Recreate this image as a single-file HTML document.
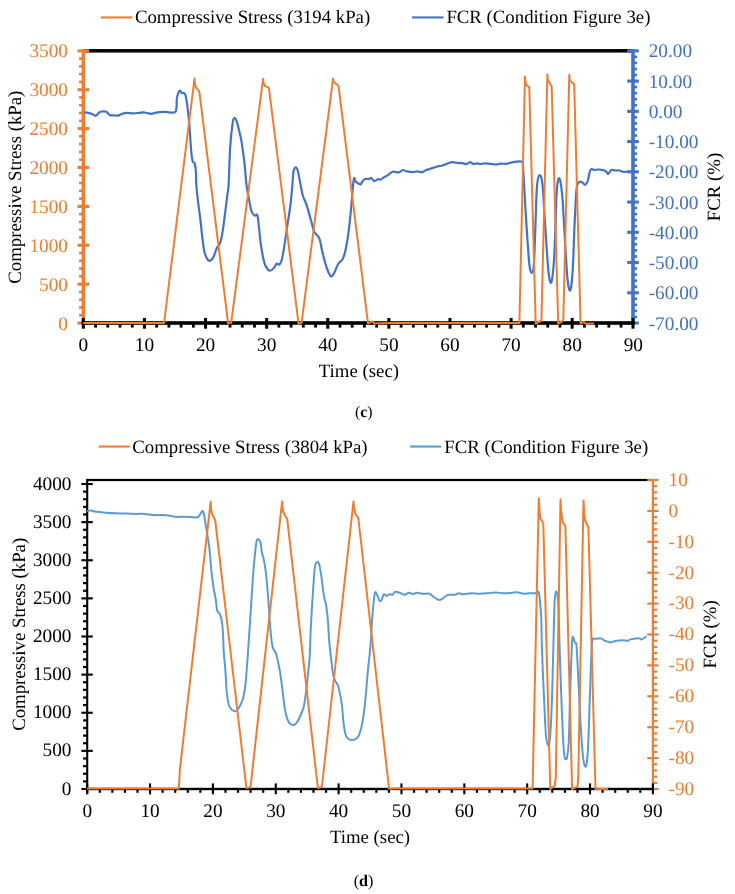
<!DOCTYPE html>
<html><head><meta charset="utf-8"><style>
html,body{margin:0;padding:0;background:#fff;width:735px;height:894px;overflow:hidden}
text{font-family:"Liberation Serif", serif;text-rendering:geometricPrecision}
svg{will-change:transform}
</style></head><body>
<svg width="735" height="894" viewBox="0 0 735 894" style="display:block">
<rect width="735" height="894" fill="#fff"/>
<rect x="83.35" y="49.05" width="549.9499999999999" height="3.5" fill="#000"/>
<rect x="81.6" y="49.05" width="3.5" height="272.2" fill="#ED7D31"/>
<rect x="77.55" y="321.50" width="11.6" height="3.1" fill="#ED7D31"/>
<rect x="79.05" y="313.92" width="4.3" height="2.6" fill="#ED7D31"/>
<rect x="79.05" y="306.15" width="4.3" height="2.6" fill="#ED7D31"/>
<rect x="79.05" y="298.37" width="4.3" height="2.6" fill="#ED7D31"/>
<rect x="79.05" y="290.59" width="4.3" height="2.6" fill="#ED7D31"/>
<rect x="77.55" y="282.61" width="11.6" height="3.1" fill="#ED7D31"/>
<rect x="79.05" y="275.04" width="4.3" height="2.6" fill="#ED7D31"/>
<rect x="79.05" y="267.26" width="4.3" height="2.6" fill="#ED7D31"/>
<rect x="79.05" y="259.48" width="4.3" height="2.6" fill="#ED7D31"/>
<rect x="79.05" y="251.71" width="4.3" height="2.6" fill="#ED7D31"/>
<rect x="77.55" y="243.73" width="11.6" height="3.1" fill="#ED7D31"/>
<rect x="79.05" y="236.15" width="4.3" height="2.6" fill="#ED7D31"/>
<rect x="79.05" y="228.37" width="4.3" height="2.6" fill="#ED7D31"/>
<rect x="79.05" y="220.60" width="4.3" height="2.6" fill="#ED7D31"/>
<rect x="79.05" y="212.82" width="4.3" height="2.6" fill="#ED7D31"/>
<rect x="77.55" y="204.84" width="11.6" height="3.1" fill="#ED7D31"/>
<rect x="79.05" y="197.27" width="4.3" height="2.6" fill="#ED7D31"/>
<rect x="79.05" y="189.49" width="4.3" height="2.6" fill="#ED7D31"/>
<rect x="79.05" y="181.71" width="4.3" height="2.6" fill="#ED7D31"/>
<rect x="79.05" y="173.93" width="4.3" height="2.6" fill="#ED7D31"/>
<rect x="77.55" y="165.96" width="11.6" height="3.1" fill="#ED7D31"/>
<rect x="79.05" y="158.38" width="4.3" height="2.6" fill="#ED7D31"/>
<rect x="79.05" y="150.60" width="4.3" height="2.6" fill="#ED7D31"/>
<rect x="79.05" y="142.83" width="4.3" height="2.6" fill="#ED7D31"/>
<rect x="79.05" y="135.05" width="4.3" height="2.6" fill="#ED7D31"/>
<rect x="77.55" y="127.07" width="11.6" height="3.1" fill="#ED7D31"/>
<rect x="79.05" y="119.49" width="4.3" height="2.6" fill="#ED7D31"/>
<rect x="79.05" y="111.72" width="4.3" height="2.6" fill="#ED7D31"/>
<rect x="79.05" y="103.94" width="4.3" height="2.6" fill="#ED7D31"/>
<rect x="79.05" y="96.16" width="4.3" height="2.6" fill="#ED7D31"/>
<rect x="77.55" y="88.19" width="11.6" height="3.1" fill="#ED7D31"/>
<rect x="79.05" y="80.61" width="4.3" height="2.6" fill="#ED7D31"/>
<rect x="79.05" y="72.83" width="4.3" height="2.6" fill="#ED7D31"/>
<rect x="79.05" y="65.05" width="4.3" height="2.6" fill="#ED7D31"/>
<rect x="79.05" y="57.28" width="4.3" height="2.6" fill="#ED7D31"/>
<rect x="77.55" y="49.30" width="11.6" height="3.1" fill="#ED7D31"/>
<rect x="631.2" y="49.05" width="3.6" height="273.95" fill="#4472C4"/>
<rect x="627.20" y="321.50" width="11.6" height="3.1" fill="#4472C4"/>
<rect x="633.00" y="315.65" width="4.1" height="2.6" fill="#4472C4"/>
<rect x="633.00" y="309.60" width="4.1" height="2.6" fill="#4472C4"/>
<rect x="633.00" y="303.55" width="4.1" height="2.6" fill="#4472C4"/>
<rect x="633.00" y="297.50" width="4.1" height="2.6" fill="#4472C4"/>
<rect x="627.20" y="291.26" width="11.6" height="3.1" fill="#4472C4"/>
<rect x="633.00" y="285.41" width="4.1" height="2.6" fill="#4472C4"/>
<rect x="633.00" y="279.36" width="4.1" height="2.6" fill="#4472C4"/>
<rect x="633.00" y="273.31" width="4.1" height="2.6" fill="#4472C4"/>
<rect x="633.00" y="267.26" width="4.1" height="2.6" fill="#4472C4"/>
<rect x="627.20" y="261.01" width="11.6" height="3.1" fill="#4472C4"/>
<rect x="633.00" y="255.16" width="4.1" height="2.6" fill="#4472C4"/>
<rect x="633.00" y="249.11" width="4.1" height="2.6" fill="#4472C4"/>
<rect x="633.00" y="243.06" width="4.1" height="2.6" fill="#4472C4"/>
<rect x="633.00" y="237.02" width="4.1" height="2.6" fill="#4472C4"/>
<rect x="627.20" y="230.77" width="11.6" height="3.1" fill="#4472C4"/>
<rect x="633.00" y="224.92" width="4.1" height="2.6" fill="#4472C4"/>
<rect x="633.00" y="218.87" width="4.1" height="2.6" fill="#4472C4"/>
<rect x="633.00" y="212.82" width="4.1" height="2.6" fill="#4472C4"/>
<rect x="633.00" y="206.77" width="4.1" height="2.6" fill="#4472C4"/>
<rect x="627.20" y="200.52" width="11.6" height="3.1" fill="#4472C4"/>
<rect x="633.00" y="194.67" width="4.1" height="2.6" fill="#4472C4"/>
<rect x="633.00" y="188.62" width="4.1" height="2.6" fill="#4472C4"/>
<rect x="633.00" y="182.58" width="4.1" height="2.6" fill="#4472C4"/>
<rect x="633.00" y="176.53" width="4.1" height="2.6" fill="#4472C4"/>
<rect x="627.20" y="170.28" width="11.6" height="3.1" fill="#4472C4"/>
<rect x="633.00" y="164.43" width="4.1" height="2.6" fill="#4472C4"/>
<rect x="633.00" y="158.38" width="4.1" height="2.6" fill="#4472C4"/>
<rect x="633.00" y="152.33" width="4.1" height="2.6" fill="#4472C4"/>
<rect x="633.00" y="146.28" width="4.1" height="2.6" fill="#4472C4"/>
<rect x="627.20" y="140.03" width="11.6" height="3.1" fill="#4472C4"/>
<rect x="633.00" y="134.18" width="4.1" height="2.6" fill="#4472C4"/>
<rect x="633.00" y="128.14" width="4.1" height="2.6" fill="#4472C4"/>
<rect x="633.00" y="122.09" width="4.1" height="2.6" fill="#4472C4"/>
<rect x="633.00" y="116.04" width="4.1" height="2.6" fill="#4472C4"/>
<rect x="627.20" y="109.79" width="11.6" height="3.1" fill="#4472C4"/>
<rect x="633.00" y="103.94" width="4.1" height="2.6" fill="#4472C4"/>
<rect x="633.00" y="97.89" width="4.1" height="2.6" fill="#4472C4"/>
<rect x="633.00" y="91.84" width="4.1" height="2.6" fill="#4472C4"/>
<rect x="633.00" y="85.79" width="4.1" height="2.6" fill="#4472C4"/>
<rect x="627.20" y="79.54" width="11.6" height="3.1" fill="#4472C4"/>
<rect x="633.00" y="73.70" width="4.1" height="2.6" fill="#4472C4"/>
<rect x="633.00" y="67.65" width="4.1" height="2.6" fill="#4472C4"/>
<rect x="633.00" y="61.60" width="4.1" height="2.6" fill="#4472C4"/>
<rect x="633.00" y="55.55" width="4.1" height="2.6" fill="#4472C4"/>
<rect x="627.20" y="49.30" width="11.6" height="3.1" fill="#4472C4"/>
<rect x="81.6" y="321.2" width="553.15" height="3.6" fill="#000"/>
<rect x="81.85" y="318.0" width="3.0" height="10.7" fill="#000"/>
<rect x="94.17" y="323.0" width="2.8" height="4.6" fill="#000"/>
<rect x="106.39" y="323.0" width="2.8" height="4.6" fill="#000"/>
<rect x="118.61" y="323.0" width="2.8" height="4.6" fill="#000"/>
<rect x="130.83" y="323.0" width="2.8" height="4.6" fill="#000"/>
<rect x="142.96" y="318.0" width="3.0" height="10.7" fill="#000"/>
<rect x="155.28" y="323.0" width="2.8" height="4.6" fill="#000"/>
<rect x="167.50" y="323.0" width="2.8" height="4.6" fill="#000"/>
<rect x="179.72" y="323.0" width="2.8" height="4.6" fill="#000"/>
<rect x="191.94" y="323.0" width="2.8" height="4.6" fill="#000"/>
<rect x="204.06" y="318.0" width="3.0" height="10.7" fill="#000"/>
<rect x="216.38" y="323.0" width="2.8" height="4.6" fill="#000"/>
<rect x="228.60" y="323.0" width="2.8" height="4.6" fill="#000"/>
<rect x="240.82" y="323.0" width="2.8" height="4.6" fill="#000"/>
<rect x="253.05" y="323.0" width="2.8" height="4.6" fill="#000"/>
<rect x="265.17" y="318.0" width="3.0" height="10.7" fill="#000"/>
<rect x="277.49" y="323.0" width="2.8" height="4.6" fill="#000"/>
<rect x="289.71" y="323.0" width="2.8" height="4.6" fill="#000"/>
<rect x="301.93" y="323.0" width="2.8" height="4.6" fill="#000"/>
<rect x="314.15" y="323.0" width="2.8" height="4.6" fill="#000"/>
<rect x="326.27" y="318.0" width="3.0" height="10.7" fill="#000"/>
<rect x="338.59" y="323.0" width="2.8" height="4.6" fill="#000"/>
<rect x="350.81" y="323.0" width="2.8" height="4.6" fill="#000"/>
<rect x="363.04" y="323.0" width="2.8" height="4.6" fill="#000"/>
<rect x="375.26" y="323.0" width="2.8" height="4.6" fill="#000"/>
<rect x="387.38" y="318.0" width="3.0" height="10.7" fill="#000"/>
<rect x="399.70" y="323.0" width="2.8" height="4.6" fill="#000"/>
<rect x="411.92" y="323.0" width="2.8" height="4.6" fill="#000"/>
<rect x="424.14" y="323.0" width="2.8" height="4.6" fill="#000"/>
<rect x="436.36" y="323.0" width="2.8" height="4.6" fill="#000"/>
<rect x="448.48" y="318.0" width="3.0" height="10.7" fill="#000"/>
<rect x="460.80" y="323.0" width="2.8" height="4.6" fill="#000"/>
<rect x="473.03" y="323.0" width="2.8" height="4.6" fill="#000"/>
<rect x="485.25" y="323.0" width="2.8" height="4.6" fill="#000"/>
<rect x="497.47" y="323.0" width="2.8" height="4.6" fill="#000"/>
<rect x="509.59" y="318.0" width="3.0" height="10.7" fill="#000"/>
<rect x="521.91" y="323.0" width="2.8" height="4.6" fill="#000"/>
<rect x="534.13" y="323.0" width="2.8" height="4.6" fill="#000"/>
<rect x="546.35" y="323.0" width="2.8" height="4.6" fill="#000"/>
<rect x="558.57" y="323.0" width="2.8" height="4.6" fill="#000"/>
<rect x="570.69" y="318.0" width="3.0" height="10.7" fill="#000"/>
<rect x="583.02" y="323.0" width="2.8" height="4.6" fill="#000"/>
<rect x="595.24" y="323.0" width="2.8" height="4.6" fill="#000"/>
<rect x="607.46" y="323.0" width="2.8" height="4.6" fill="#000"/>
<rect x="619.68" y="323.0" width="2.8" height="4.6" fill="#000"/>
<rect x="631.50" y="318.0" width="3.0" height="10.7" fill="#000"/>
<path d="M84.1,112.3 C84.8,112.4 86.8,112.5 88.2,112.8 C89.6,113.1 90.9,113.5 92.2,114.0 C93.5,114.5 94.7,116.1 95.9,115.8 C97.1,115.5 98.3,113.0 99.4,112.3 C100.5,111.6 101.2,111.6 102.4,111.5 C103.6,111.4 105.3,111.1 106.5,111.7 C107.7,112.3 108.4,114.4 109.6,115.0 C110.8,115.6 112.3,115.3 113.7,115.4 C115.1,115.5 116.5,115.8 117.8,115.6 C119.1,115.4 120.3,114.5 121.8,114.0 C123.3,113.5 125.0,112.9 126.9,112.8 C128.8,112.7 131.1,113.4 133.1,113.4 C135.1,113.4 137.5,113.0 139.2,112.8 C140.9,112.6 142.0,112.3 143.3,112.3 C144.7,112.3 146.0,112.8 147.3,113.0 C148.7,113.2 149.7,113.9 151.4,113.8 C153.1,113.7 155.2,112.6 157.6,112.3 C160.0,112.0 162.7,112.0 165.7,111.9 C168.7,111.8 173.6,114.0 175.5,111.7 C177.4,109.4 176.3,101.5 176.9,98.1 C177.5,94.7 178.4,92.7 179.0,91.5 C179.6,90.3 179.9,90.6 180.4,90.9 C180.9,91.2 181.4,92.9 182.0,93.2 C182.6,93.5 183.5,92.5 184.1,93.0 C184.7,93.5 185.2,94.1 185.7,96.0 C186.2,97.9 186.5,99.8 187.1,104.2 C187.7,108.6 188.5,114.8 189.2,122.6 C189.9,130.4 190.6,144.6 191.2,151.1 C191.8,157.6 192.1,159.2 192.7,161.3 C193.3,163.4 194.2,161.7 194.7,163.4 C195.2,165.1 195.6,167.9 195.9,171.5 C196.2,175.1 196.0,180.0 196.3,185.0 C196.7,190.0 197.3,195.5 198.0,201.3 C198.7,207.1 199.7,213.6 200.4,219.7 C201.1,225.8 201.7,232.7 202.4,238.1 C203.1,243.5 203.6,248.7 204.5,252.3 C205.4,255.9 206.6,258.1 207.6,259.5 C208.6,260.9 209.6,261.0 210.6,260.5 C211.6,260.0 212.7,258.4 213.7,256.4 C214.7,254.4 215.6,250.7 216.7,248.3 C217.8,245.9 219.4,245.2 220.4,242.1 C221.4,239.0 222.1,235.0 222.9,229.9 C223.7,224.8 224.6,217.3 225.3,211.5 C226.0,205.7 226.8,199.6 227.3,195.2 C227.9,190.8 228.1,193.0 228.6,185.0 C229.1,177.0 229.5,157.4 230.2,147.0 C230.9,136.6 232.0,127.4 232.7,122.6 C233.4,117.8 233.7,118.4 234.3,118.1 C234.9,117.8 235.5,118.2 236.3,120.5 C237.2,122.8 238.6,128.3 239.4,131.7 C240.2,135.1 240.6,135.6 241.4,140.9 C242.2,146.2 243.7,156.1 244.5,163.4 C245.3,170.8 245.8,179.4 246.5,185.0 C247.2,190.6 247.8,192.8 248.6,197.2 C249.4,201.6 250.6,208.4 251.6,211.5 C252.6,214.6 253.8,215.0 254.7,215.6 C255.6,216.2 256.6,213.5 257.3,215.2 C258.0,216.9 258.2,221.0 258.8,225.8 C259.4,230.6 260.1,238.8 260.8,244.2 C261.6,249.6 262.5,254.8 263.3,258.5 C264.1,262.2 264.8,264.6 265.9,266.6 C267.0,268.6 268.6,270.5 270.0,270.7 C271.4,270.9 273.0,268.9 274.1,267.7 C275.2,266.5 275.9,264.1 276.7,263.6 C277.5,263.1 278.4,265.1 279.2,264.6 C280.0,264.1 280.8,263.6 281.6,260.5 C282.5,257.4 283.4,252.0 284.3,246.2 C285.2,240.4 286.3,232.6 287.3,225.8 C288.3,219.0 289.5,212.2 290.4,205.4 C291.2,198.6 291.9,190.7 292.4,185.0 C292.9,179.3 292.9,174.4 293.5,171.5 C294.1,168.6 295.1,167.4 295.9,167.4 C296.6,167.4 297.2,168.6 298.0,171.5 C298.8,174.4 299.8,181.1 300.6,185.0 C301.4,188.9 301.7,191.8 302.7,195.2 C303.7,198.6 305.3,201.3 306.7,205.4 C308.1,209.5 309.6,215.4 310.8,219.7 C312.0,223.9 312.9,228.3 313.9,230.9 C314.9,233.5 315.9,233.6 316.9,235.0 C317.8,236.4 318.8,236.5 319.6,239.1 C320.5,241.7 321.1,246.4 322.0,250.3 C322.9,254.2 324.1,259.0 325.1,262.6 C326.1,266.2 327.2,269.4 328.2,271.7 C329.2,274.0 330.2,276.2 331.2,276.4 C332.2,276.6 333.1,274.9 334.3,272.8 C335.5,270.7 337.0,265.8 338.4,263.6 C339.8,261.4 341.2,261.7 342.4,259.5 C343.6,257.3 344.5,254.9 345.5,250.3 C346.5,245.7 347.7,238.7 348.6,231.9 C349.5,225.1 350.1,218.2 351.0,209.5 C351.9,200.8 352.9,184.3 353.7,179.7 C354.5,175.1 354.8,181.0 355.7,181.7 C356.6,182.4 357.9,183.4 358.8,183.8 C359.7,184.2 360.3,184.5 360.8,184.2 C361.3,183.9 361.3,182.9 362.0,182.0 C362.7,181.1 363.9,179.5 365.1,179.0 C366.3,178.5 368.2,179.2 369.2,179.0 C370.2,178.8 370.3,177.7 371.2,178.0 C372.1,178.3 373.1,180.8 374.3,181.0 C375.5,181.2 377.4,179.2 378.4,179.0 C379.4,178.8 379.5,179.8 380.4,179.6 C381.2,179.4 382.3,178.3 383.5,177.6 C384.7,176.9 386.1,176.3 387.6,175.3 C389.1,174.3 390.8,172.3 392.7,171.8 C394.6,171.3 397.1,172.7 398.8,172.4 C400.5,172.1 401.5,170.2 402.9,170.0 C404.2,169.8 405.2,171.0 406.9,171.4 C408.6,171.8 411.4,172.2 413.1,172.2 C414.8,172.2 415.6,171.4 417.1,171.4 C418.6,171.4 420.8,172.4 422.2,172.2 C423.6,172.0 423.9,171.0 425.3,170.4 C426.7,169.8 428.5,169.4 430.4,168.8 C432.3,168.2 434.6,167.2 436.5,166.7 C438.4,166.2 439.9,166.2 441.6,165.7 C443.3,165.2 445.0,164.5 446.7,163.9 C448.4,163.3 450.3,162.4 451.8,162.2 C453.3,162.0 454.2,162.5 455.9,162.7 C457.6,162.8 460.3,162.9 462.0,163.1 C463.7,163.3 464.7,164.2 466.1,164.1 C467.5,163.9 469.0,162.2 470.2,162.2 C471.4,162.2 472.1,163.7 473.3,163.9 C474.5,164.1 476.1,163.3 477.3,163.3 C478.5,163.3 479.2,164.1 480.4,164.1 C481.6,164.1 482.8,163.3 484.5,163.3 C486.2,163.3 488.7,163.7 490.6,163.9 C492.5,164.1 494.0,164.5 495.7,164.5 C497.4,164.5 499.1,163.8 500.8,163.7 C502.5,163.6 504.5,164.0 506.1,163.8 C507.7,163.7 508.5,163.2 510.2,162.8 C511.9,162.5 514.3,161.9 516.3,161.7 C518.3,161.5 520.9,161.1 522.0,161.7 C523.1,162.3 522.5,161.5 522.9,165.4 C523.2,169.3 523.7,177.7 524.1,185.0 C524.5,192.3 524.9,200.0 525.5,209.5 C526.1,219.0 526.9,232.6 527.6,242.1 C528.3,251.6 528.9,261.5 529.6,266.6 C530.3,271.7 530.9,272.8 531.6,272.8 C532.3,272.8 533.1,272.7 533.7,266.6 C534.3,260.5 534.7,247.6 535.1,236.0 C535.5,224.4 536.0,205.7 536.4,197.0 C536.8,188.3 536.9,187.3 537.2,184.0 C537.5,180.7 538.0,178.5 538.4,177.0 C538.8,175.5 539.3,175.2 539.8,175.2 C540.3,175.2 540.8,175.5 541.2,177.0 C541.6,178.5 542.0,181.0 542.4,184.0 C542.8,187.0 543.0,191.4 543.3,195.0 C543.5,198.6 543.5,198.6 543.9,205.4 C544.3,212.2 545.2,225.8 545.9,236.0 C546.6,246.2 547.3,259.1 548.0,266.6 C548.7,274.2 549.3,279.1 550.0,281.3 C550.7,283.5 551.3,283.6 552.0,279.8 C552.7,276.0 553.5,267.5 554.1,258.5 C554.7,249.5 555.1,236.1 555.5,225.8 C555.9,215.6 556.1,203.8 556.4,197.0 C556.7,190.2 556.9,188.1 557.3,185.0 C557.7,181.9 558.3,179.1 558.8,178.4 C559.3,177.7 559.9,179.4 560.3,181.0 C560.7,182.6 561.0,184.8 561.4,188.0 C561.8,191.2 562.3,196.1 562.6,200.0 C562.9,203.9 562.8,203.8 563.3,211.5 C563.8,219.2 564.6,235.3 565.3,246.2 C566.0,257.1 566.6,269.5 567.3,276.8 C568.0,284.1 568.7,288.7 569.4,290.1 C570.1,291.5 570.8,289.6 571.4,285.0 C572.0,280.4 572.6,272.5 573.1,262.6 C573.6,252.7 574.0,236.7 574.5,225.8 C575.0,214.9 575.5,203.9 575.9,197.2 C576.3,190.5 576.5,188.4 577.1,185.8 C577.7,183.2 578.7,182.2 579.6,181.7 C580.5,181.2 581.8,182.3 582.7,182.8 C583.7,183.3 584.4,185.2 585.3,184.8 C586.1,184.5 587.0,182.9 587.8,180.7 C588.5,178.5 589.2,173.5 589.8,171.5 C590.4,169.5 590.7,169.2 591.4,168.9 C592.1,168.6 592.8,169.8 593.9,169.9 C595.0,170.0 596.6,169.5 598.0,169.5 C599.4,169.5 600.6,169.6 602.0,169.9 C603.4,170.2 605.1,170.8 606.1,171.5 C607.1,172.2 607.4,174.3 608.2,174.0 C609.1,173.7 610.0,170.5 611.2,169.9 C612.4,169.3 613.9,170.4 615.3,170.5 C616.7,170.6 618.0,170.3 619.4,170.5 C620.8,170.7 622.1,171.7 623.5,171.9 C624.9,172.1 626.2,171.5 627.6,171.5 C629.0,171.5 630.9,171.8 631.6,171.9" fill="none" stroke="#4472C4" stroke-width="2.2" stroke-linejoin="round"/>
<polyline points="83.3,323.0 164.1,323.0 194.5,78.6 194.8,83.5 196.0,87.6 198.9,90.8 199.5,92.9 228.2,323.8 231.2,322.8 263.1,78.8 263.4,82.2 264.6,85.7 267.2,87.1 268.9,88.0 298.6,323.8 301.6,322.8 333.1,78.4 333.4,81.4 335.6,83.5 338.5,85.7 368.0,323.3 372.2,321.4 374.3,323.5 390.0,323.0 519.4,323.0 525.0,76.4 525.5,82.1 526.9,85.5 529.3,87.4 535.7,323.8 538.8,321.7 541.4,320.7 547.4,74.3 547.9,80.2 549.8,83.1 551.7,86.4 558.2,323.8 561.2,322.1 563.3,319.7 569.3,74.8 569.8,80.7 572.1,82.6 574.2,84.5 580.6,323.4 583.7,322.1 585.7,323.8 593.9,323.5" fill="none" stroke="#ED7D31" stroke-width="2.0" stroke-linejoin="round"/>
<text x="68.00" y="329.50" font-size="19.3" text-anchor="end" fill="#ED7D31" >0</text>
<text x="68.00" y="290.61" font-size="19.3" text-anchor="end" fill="#ED7D31" >500</text>
<text x="68.00" y="251.73" font-size="19.3" text-anchor="end" fill="#ED7D31" >1000</text>
<text x="68.00" y="212.84" font-size="19.3" text-anchor="end" fill="#ED7D31" >1500</text>
<text x="68.00" y="173.96" font-size="19.3" text-anchor="end" fill="#ED7D31" >2000</text>
<text x="68.00" y="135.07" font-size="19.3" text-anchor="end" fill="#ED7D31" >2500</text>
<text x="68.00" y="96.19" font-size="19.3" text-anchor="end" fill="#ED7D31" >3000</text>
<text x="68.00" y="57.30" font-size="19.3" text-anchor="end" fill="#ED7D31" >3500</text>
<text x="648.70" y="57.30" font-size="19.3" text-anchor="start" fill="#4472C4" >20.00</text>
<text x="648.70" y="87.54" font-size="19.3" text-anchor="start" fill="#4472C4" >10.00</text>
<text x="648.70" y="117.79" font-size="19.3" text-anchor="start" fill="#4472C4" >0.00</text>
<text x="648.70" y="148.03" font-size="19.3" text-anchor="start" fill="#4472C4" >-10.00</text>
<text x="648.70" y="178.28" font-size="19.3" text-anchor="start" fill="#4472C4" >-20.00</text>
<text x="648.70" y="208.52" font-size="19.3" text-anchor="start" fill="#4472C4" >-30.00</text>
<text x="648.70" y="238.77" font-size="19.3" text-anchor="start" fill="#4472C4" >-40.00</text>
<text x="648.70" y="269.01" font-size="19.3" text-anchor="start" fill="#4472C4" >-50.00</text>
<text x="648.70" y="299.26" font-size="19.3" text-anchor="start" fill="#4472C4" >-60.00</text>
<text x="648.70" y="329.50" font-size="19.3" text-anchor="start" fill="#4472C4" >-70.00</text>
<text x="83.35" y="351.00" font-size="19.3" text-anchor="middle" fill="#000" >0</text>
<text x="144.46" y="351.00" font-size="19.3" text-anchor="middle" fill="#000" >10</text>
<text x="205.56" y="351.00" font-size="19.3" text-anchor="middle" fill="#000" >20</text>
<text x="266.67" y="351.00" font-size="19.3" text-anchor="middle" fill="#000" >30</text>
<text x="327.77" y="351.00" font-size="19.3" text-anchor="middle" fill="#000" >40</text>
<text x="388.88" y="351.00" font-size="19.3" text-anchor="middle" fill="#000" >50</text>
<text x="449.98" y="351.00" font-size="19.3" text-anchor="middle" fill="#000" >60</text>
<text x="511.09" y="351.00" font-size="19.3" text-anchor="middle" fill="#000" >70</text>
<text x="572.19" y="351.00" font-size="19.3" text-anchor="middle" fill="#000" >80</text>
<text x="633.30" y="351.00" font-size="19.3" text-anchor="middle" fill="#000" >90</text>
<text x="358.90" y="376.90" font-size="18.8" text-anchor="middle" fill="#000" >Time (sec)</text>
<text x="21.00" y="187.20" font-size="18.8" text-anchor="middle" fill="#000" transform="rotate(-90 21.0 187.2)">Compressive Stress (kPa)</text>
<text x="719.60" y="187.00" font-size="18.8" text-anchor="middle" fill="#000" transform="rotate(-90 719.6 187.0)">FCR (%)</text>
<rect x="100.9" y="16.4" width="31.3" height="2.1" fill="#ED7D31"/>
<text x="134.90" y="23.40" font-size="18.8" text-anchor="start" fill="#000" >Compressive Stress (3194 kPa)</text>
<rect x="412" y="16.4" width="31.5" height="2.1" fill="#4472C4"/>
<text x="446.40" y="23.40" font-size="18.8" text-anchor="start" fill="#000" >FCR (Condition Figure 3e)</text>
<text x="363.70" y="417.40" font-size="15.8" text-anchor="middle" fill="#000" >(<tspan font-weight="bold">c</tspan>)</text>
<rect x="87.2" y="478.9" width="565.6999999999999" height="2.2" fill="#000"/>
<rect x="86.15" y="478.9" width="2.1" height="315.0" fill="#000"/>
<rect x="81.40" y="787.95" width="11.4" height="2.1" fill="#000"/>
<rect x="83.10" y="780.27" width="4.1" height="2.2" fill="#000"/>
<rect x="83.10" y="772.65" width="4.1" height="2.2" fill="#000"/>
<rect x="83.10" y="765.02" width="4.1" height="2.2" fill="#000"/>
<rect x="83.10" y="757.40" width="4.1" height="2.2" fill="#000"/>
<rect x="81.40" y="749.83" width="11.4" height="2.1" fill="#000"/>
<rect x="83.10" y="742.15" width="4.1" height="2.2" fill="#000"/>
<rect x="83.10" y="734.52" width="4.1" height="2.2" fill="#000"/>
<rect x="83.10" y="726.90" width="4.1" height="2.2" fill="#000"/>
<rect x="83.10" y="719.27" width="4.1" height="2.2" fill="#000"/>
<rect x="81.40" y="711.70" width="11.4" height="2.1" fill="#000"/>
<rect x="83.10" y="704.02" width="4.1" height="2.2" fill="#000"/>
<rect x="83.10" y="696.40" width="4.1" height="2.2" fill="#000"/>
<rect x="83.10" y="688.77" width="4.1" height="2.2" fill="#000"/>
<rect x="83.10" y="681.15" width="4.1" height="2.2" fill="#000"/>
<rect x="81.40" y="673.58" width="11.4" height="2.1" fill="#000"/>
<rect x="83.10" y="665.90" width="4.1" height="2.2" fill="#000"/>
<rect x="83.10" y="658.27" width="4.1" height="2.2" fill="#000"/>
<rect x="83.10" y="650.65" width="4.1" height="2.2" fill="#000"/>
<rect x="83.10" y="643.02" width="4.1" height="2.2" fill="#000"/>
<rect x="81.40" y="635.45" width="11.4" height="2.1" fill="#000"/>
<rect x="83.10" y="627.77" width="4.1" height="2.2" fill="#000"/>
<rect x="83.10" y="620.15" width="4.1" height="2.2" fill="#000"/>
<rect x="83.10" y="612.52" width="4.1" height="2.2" fill="#000"/>
<rect x="83.10" y="604.90" width="4.1" height="2.2" fill="#000"/>
<rect x="81.40" y="597.33" width="11.4" height="2.1" fill="#000"/>
<rect x="83.10" y="589.65" width="4.1" height="2.2" fill="#000"/>
<rect x="83.10" y="582.02" width="4.1" height="2.2" fill="#000"/>
<rect x="83.10" y="574.40" width="4.1" height="2.2" fill="#000"/>
<rect x="83.10" y="566.77" width="4.1" height="2.2" fill="#000"/>
<rect x="81.40" y="559.20" width="11.4" height="2.1" fill="#000"/>
<rect x="83.10" y="551.52" width="4.1" height="2.2" fill="#000"/>
<rect x="83.10" y="543.90" width="4.1" height="2.2" fill="#000"/>
<rect x="83.10" y="536.27" width="4.1" height="2.2" fill="#000"/>
<rect x="83.10" y="528.65" width="4.1" height="2.2" fill="#000"/>
<rect x="81.40" y="521.08" width="11.4" height="2.1" fill="#000"/>
<rect x="83.10" y="513.40" width="4.1" height="2.2" fill="#000"/>
<rect x="83.10" y="505.77" width="4.1" height="2.2" fill="#000"/>
<rect x="83.10" y="498.15" width="4.1" height="2.2" fill="#000"/>
<rect x="83.10" y="490.52" width="4.1" height="2.2" fill="#000"/>
<rect x="81.40" y="482.95" width="11.4" height="2.1" fill="#000"/>
<rect x="651.8" y="478.9" width="2.2" height="310.1" fill="#ED7D31"/>
<rect x="647.30" y="787.90" width="11.2" height="2.2" fill="#ED7D31"/>
<rect x="652.90" y="781.72" width="4.3" height="2.2" fill="#ED7D31"/>
<rect x="652.90" y="775.54" width="4.3" height="2.2" fill="#ED7D31"/>
<rect x="652.90" y="769.36" width="4.3" height="2.2" fill="#ED7D31"/>
<rect x="652.90" y="763.18" width="4.3" height="2.2" fill="#ED7D31"/>
<rect x="647.30" y="757.00" width="11.2" height="2.2" fill="#ED7D31"/>
<rect x="652.90" y="750.82" width="4.3" height="2.2" fill="#ED7D31"/>
<rect x="652.90" y="744.64" width="4.3" height="2.2" fill="#ED7D31"/>
<rect x="652.90" y="738.46" width="4.3" height="2.2" fill="#ED7D31"/>
<rect x="652.90" y="732.28" width="4.3" height="2.2" fill="#ED7D31"/>
<rect x="647.30" y="726.10" width="11.2" height="2.2" fill="#ED7D31"/>
<rect x="652.90" y="719.92" width="4.3" height="2.2" fill="#ED7D31"/>
<rect x="652.90" y="713.74" width="4.3" height="2.2" fill="#ED7D31"/>
<rect x="652.90" y="707.56" width="4.3" height="2.2" fill="#ED7D31"/>
<rect x="652.90" y="701.38" width="4.3" height="2.2" fill="#ED7D31"/>
<rect x="647.30" y="695.20" width="11.2" height="2.2" fill="#ED7D31"/>
<rect x="652.90" y="689.02" width="4.3" height="2.2" fill="#ED7D31"/>
<rect x="652.90" y="682.84" width="4.3" height="2.2" fill="#ED7D31"/>
<rect x="652.90" y="676.66" width="4.3" height="2.2" fill="#ED7D31"/>
<rect x="652.90" y="670.48" width="4.3" height="2.2" fill="#ED7D31"/>
<rect x="647.30" y="664.30" width="11.2" height="2.2" fill="#ED7D31"/>
<rect x="652.90" y="658.12" width="4.3" height="2.2" fill="#ED7D31"/>
<rect x="652.90" y="651.94" width="4.3" height="2.2" fill="#ED7D31"/>
<rect x="652.90" y="645.76" width="4.3" height="2.2" fill="#ED7D31"/>
<rect x="652.90" y="639.58" width="4.3" height="2.2" fill="#ED7D31"/>
<rect x="647.30" y="633.40" width="11.2" height="2.2" fill="#ED7D31"/>
<rect x="652.90" y="627.22" width="4.3" height="2.2" fill="#ED7D31"/>
<rect x="652.90" y="621.04" width="4.3" height="2.2" fill="#ED7D31"/>
<rect x="652.90" y="614.86" width="4.3" height="2.2" fill="#ED7D31"/>
<rect x="652.90" y="608.68" width="4.3" height="2.2" fill="#ED7D31"/>
<rect x="647.30" y="602.50" width="11.2" height="2.2" fill="#ED7D31"/>
<rect x="652.90" y="596.32" width="4.3" height="2.2" fill="#ED7D31"/>
<rect x="652.90" y="590.14" width="4.3" height="2.2" fill="#ED7D31"/>
<rect x="652.90" y="583.96" width="4.3" height="2.2" fill="#ED7D31"/>
<rect x="652.90" y="577.78" width="4.3" height="2.2" fill="#ED7D31"/>
<rect x="647.30" y="571.60" width="11.2" height="2.2" fill="#ED7D31"/>
<rect x="652.90" y="565.42" width="4.3" height="2.2" fill="#ED7D31"/>
<rect x="652.90" y="559.24" width="4.3" height="2.2" fill="#ED7D31"/>
<rect x="652.90" y="553.06" width="4.3" height="2.2" fill="#ED7D31"/>
<rect x="652.90" y="546.88" width="4.3" height="2.2" fill="#ED7D31"/>
<rect x="647.30" y="540.70" width="11.2" height="2.2" fill="#ED7D31"/>
<rect x="652.90" y="534.52" width="4.3" height="2.2" fill="#ED7D31"/>
<rect x="652.90" y="528.34" width="4.3" height="2.2" fill="#ED7D31"/>
<rect x="652.90" y="522.16" width="4.3" height="2.2" fill="#ED7D31"/>
<rect x="652.90" y="515.98" width="4.3" height="2.2" fill="#ED7D31"/>
<rect x="647.30" y="509.80" width="11.2" height="2.2" fill="#ED7D31"/>
<rect x="652.90" y="503.62" width="4.3" height="2.2" fill="#ED7D31"/>
<rect x="652.90" y="497.44" width="4.3" height="2.2" fill="#ED7D31"/>
<rect x="652.90" y="491.26" width="4.3" height="2.2" fill="#ED7D31"/>
<rect x="652.90" y="485.08" width="4.3" height="2.2" fill="#ED7D31"/>
<rect x="647.30" y="478.90" width="11.2" height="2.2" fill="#ED7D31"/>
<rect x="86.10000000000001" y="787.8" width="567.9" height="2.4" fill="#000"/>
<rect x="86.15" y="783.4" width="2.1" height="10.9" fill="#000"/>
<rect x="98.67" y="789.0" width="2.2" height="3.8" fill="#000"/>
<rect x="111.24" y="789.0" width="2.2" height="3.8" fill="#000"/>
<rect x="123.81" y="789.0" width="2.2" height="3.8" fill="#000"/>
<rect x="136.38" y="789.0" width="2.2" height="3.8" fill="#000"/>
<rect x="149.01" y="783.4" width="2.1" height="10.9" fill="#000"/>
<rect x="161.53" y="789.0" width="2.2" height="3.8" fill="#000"/>
<rect x="174.10" y="789.0" width="2.2" height="3.8" fill="#000"/>
<rect x="186.67" y="789.0" width="2.2" height="3.8" fill="#000"/>
<rect x="199.24" y="789.0" width="2.2" height="3.8" fill="#000"/>
<rect x="211.86" y="783.4" width="2.1" height="10.9" fill="#000"/>
<rect x="224.38" y="789.0" width="2.2" height="3.8" fill="#000"/>
<rect x="236.95" y="789.0" width="2.2" height="3.8" fill="#000"/>
<rect x="249.52" y="789.0" width="2.2" height="3.8" fill="#000"/>
<rect x="262.10" y="789.0" width="2.2" height="3.8" fill="#000"/>
<rect x="274.72" y="783.4" width="2.1" height="10.9" fill="#000"/>
<rect x="287.24" y="789.0" width="2.2" height="3.8" fill="#000"/>
<rect x="299.81" y="789.0" width="2.2" height="3.8" fill="#000"/>
<rect x="312.38" y="789.0" width="2.2" height="3.8" fill="#000"/>
<rect x="324.95" y="789.0" width="2.2" height="3.8" fill="#000"/>
<rect x="337.57" y="783.4" width="2.1" height="10.9" fill="#000"/>
<rect x="350.09" y="789.0" width="2.2" height="3.8" fill="#000"/>
<rect x="362.66" y="789.0" width="2.2" height="3.8" fill="#000"/>
<rect x="375.24" y="789.0" width="2.2" height="3.8" fill="#000"/>
<rect x="387.81" y="789.0" width="2.2" height="3.8" fill="#000"/>
<rect x="400.43" y="783.4" width="2.1" height="10.9" fill="#000"/>
<rect x="412.95" y="789.0" width="2.2" height="3.8" fill="#000"/>
<rect x="425.52" y="789.0" width="2.2" height="3.8" fill="#000"/>
<rect x="438.09" y="789.0" width="2.2" height="3.8" fill="#000"/>
<rect x="450.66" y="789.0" width="2.2" height="3.8" fill="#000"/>
<rect x="463.28" y="783.4" width="2.1" height="10.9" fill="#000"/>
<rect x="475.80" y="789.0" width="2.2" height="3.8" fill="#000"/>
<rect x="488.38" y="789.0" width="2.2" height="3.8" fill="#000"/>
<rect x="500.95" y="789.0" width="2.2" height="3.8" fill="#000"/>
<rect x="513.52" y="789.0" width="2.2" height="3.8" fill="#000"/>
<rect x="526.14" y="783.4" width="2.1" height="10.9" fill="#000"/>
<rect x="538.66" y="789.0" width="2.2" height="3.8" fill="#000"/>
<rect x="551.23" y="789.0" width="2.2" height="3.8" fill="#000"/>
<rect x="563.80" y="789.0" width="2.2" height="3.8" fill="#000"/>
<rect x="576.37" y="789.0" width="2.2" height="3.8" fill="#000"/>
<rect x="588.99" y="783.4" width="2.1" height="10.9" fill="#000"/>
<rect x="601.52" y="789.0" width="2.2" height="3.8" fill="#000"/>
<rect x="614.09" y="789.0" width="2.2" height="3.8" fill="#000"/>
<rect x="626.66" y="789.0" width="2.2" height="3.8" fill="#000"/>
<rect x="639.23" y="789.0" width="2.2" height="3.8" fill="#000"/>
<rect x="651.85" y="783.4" width="2.1" height="10.9" fill="#000"/>
<path d="M87.0,511.0 C87.7,510.9 89.7,510.5 91.1,510.6 C92.5,510.7 92.8,511.2 95.2,511.6 C97.6,512.0 102.0,512.4 105.4,512.7 C108.8,513.0 112.2,513.2 115.6,513.3 C119.0,513.4 122.4,513.4 125.8,513.5 C129.2,513.6 132.9,513.8 136.0,513.9 C139.1,514.0 141.1,513.7 144.2,513.9 C147.3,514.1 151.3,514.9 154.4,515.1 C157.5,515.3 159.9,515.0 162.6,515.1 C165.3,515.2 168.3,515.6 170.7,515.9 C173.1,516.2 174.4,516.8 176.8,516.9 C179.2,517.0 182.6,516.7 185.0,516.7 C187.4,516.7 189.1,517.0 191.1,517.1 C193.1,517.2 195.8,517.6 197.2,517.3 C198.6,517.0 198.8,516.1 199.7,515.1 C200.5,514.1 201.6,511.2 202.3,511.0 C203.0,510.8 203.3,511.7 203.8,513.7 C204.3,515.7 204.8,519.3 205.4,522.9 C206.0,526.5 206.7,530.7 207.4,535.1 C208.1,539.5 208.8,543.3 209.5,549.4 C210.2,555.5 210.8,565.3 211.5,571.8 C212.2,578.3 212.9,583.8 213.6,588.2 C214.3,592.6 215.0,594.7 215.6,598.4 C216.2,602.1 216.5,608.0 217.2,610.6 C217.9,613.2 219.0,612.3 219.7,613.7 C220.4,615.1 220.8,616.1 221.3,618.8 C221.8,621.5 222.4,624.4 222.8,630.0 C223.2,635.6 223.4,645.4 223.8,652.2 C224.2,659.0 224.9,663.8 225.4,670.6 C225.9,677.4 226.2,687.3 226.8,693.1 C227.4,698.9 228.1,702.5 228.9,705.3 C229.8,708.1 230.7,708.8 231.9,709.8 C233.1,710.8 234.8,711.8 236.2,711.0 C237.6,710.2 239.1,707.6 240.3,705.3 C241.5,703.0 242.6,700.5 243.4,697.1 C244.2,693.7 244.7,691.0 245.4,684.9 C246.1,678.8 246.7,669.5 247.4,660.4 C248.1,651.2 248.6,643.1 249.5,630.0 C250.4,616.9 251.8,594.1 252.6,582.0 C253.4,569.9 253.9,564.4 254.6,557.6 C255.3,550.8 255.9,544.2 256.6,541.2 C257.3,538.2 258.0,539.2 258.7,539.6 C259.4,540.0 260.2,541.3 260.7,543.3 C261.2,545.3 261.2,548.7 261.7,551.4 C262.2,554.1 263.1,556.2 263.8,559.6 C264.5,563.0 265.1,566.0 265.8,571.8 C266.5,577.6 267.2,585.8 267.9,594.3 C268.6,602.8 269.3,615.3 269.9,622.9 C270.5,630.5 271.0,635.8 271.5,640.0 C272.0,644.2 272.2,646.0 273.0,648.2 C273.8,650.4 275.2,651.3 276.0,653.3 C276.8,655.3 277.0,657.2 277.7,660.4 C278.4,663.6 279.4,668.3 280.1,672.7 C280.8,677.1 281.4,681.1 282.1,686.9 C282.9,692.7 283.8,702.0 284.6,707.3 C285.5,712.6 286.2,715.8 287.2,718.6 C288.1,721.4 289.1,723.1 290.3,724.1 C291.5,725.1 293.2,725.1 294.4,724.7 C295.6,724.3 296.4,723.1 297.4,721.6 C298.4,720.1 299.5,717.9 300.5,715.5 C301.5,713.1 302.8,710.7 303.6,707.3 C304.5,703.9 304.9,700.2 305.6,695.1 C306.3,690.0 307.0,683.2 307.7,676.7 C308.4,670.2 309.2,664.1 309.7,656.3 C310.2,648.5 310.2,640.3 310.7,630.0 C311.2,619.7 312.1,604.7 312.8,594.3 C313.5,583.9 314.1,573.2 314.8,567.8 C315.5,562.4 316.4,562.5 317.2,562.0 C317.9,561.5 318.6,562.4 319.3,564.7 C320.0,567.0 320.5,570.6 321.3,575.9 C322.1,581.2 323.2,591.5 324.0,596.3 C324.8,601.1 325.3,600.1 326.0,604.5 C326.7,608.9 327.6,617.0 328.1,622.9 C328.6,628.8 328.6,634.1 329.1,640.0 C329.6,645.9 330.4,652.6 331.1,658.4 C331.8,664.2 332.5,671.0 333.2,674.7 C333.9,678.4 334.4,679.1 335.2,680.8 C335.9,682.5 337.0,683.2 337.7,684.9 C338.4,686.6 338.6,687.9 339.3,691.0 C340.0,694.1 341.0,698.2 341.7,703.3 C342.4,708.4 342.8,716.5 343.4,721.6 C344.0,726.7 344.7,731.2 345.4,733.9 C346.1,736.6 346.4,737.0 347.4,738.0 C348.4,739.0 350.1,739.8 351.5,740.0 C352.9,740.2 354.4,739.7 355.6,739.0 C356.8,738.3 357.8,737.8 358.7,735.9 C359.6,734.0 360.4,731.5 361.3,727.8 C362.2,724.1 363.1,719.0 363.8,713.5 C364.6,708.0 365.1,702.2 365.8,695.1 C366.5,688.0 367.1,678.4 367.9,670.6 C368.6,662.8 369.7,655.0 370.3,648.2 C370.9,641.4 371.1,636.3 371.5,630.0 C371.9,623.7 372.2,616.7 372.8,610.6 C373.4,604.5 374.1,596.0 374.8,593.3 C375.5,590.6 376.1,593.1 376.8,594.3 C377.6,595.5 378.6,599.4 379.3,600.4 C380.1,601.4 380.6,601.4 381.3,600.4 C382.1,599.4 383.0,595.0 383.8,594.3 C384.6,593.5 385.4,595.9 386.4,595.9 C387.3,595.9 388.5,594.5 389.5,594.3 C390.5,594.1 391.7,595.1 392.6,594.7 C393.6,594.3 394.0,592.1 395.2,591.8 C396.4,591.5 398.1,592.2 399.7,592.7 C401.3,593.2 403.3,594.7 404.8,594.7 C406.3,594.7 407.5,592.8 408.9,592.7 C410.3,592.6 411.6,593.9 413.0,593.9 C414.4,593.9 415.5,592.7 417.0,592.7 C418.5,592.7 420.1,593.5 422.1,593.7 C424.2,593.9 427.4,593.2 429.3,593.7 C431.2,594.2 432.0,595.8 433.4,596.7 C434.8,597.7 436.2,598.9 437.4,599.4 C438.6,599.9 439.5,600.0 440.5,599.8 C441.5,599.6 442.6,598.8 443.6,598.0 C444.6,597.2 445.4,595.8 446.6,595.3 C447.8,594.8 449.3,594.8 450.7,594.7 C452.1,594.6 453.4,594.9 454.8,594.7 C456.2,594.5 457.5,593.4 458.9,593.3 C460.3,593.2 461.0,594.3 463.0,594.3 C465.0,594.3 468.4,593.4 471.1,593.3 C473.8,593.2 476.6,593.7 479.3,593.7 C482.0,593.7 484.7,593.5 487.4,593.3 C490.1,593.1 492.9,592.4 495.6,592.4 C498.3,592.4 501.2,593.2 503.8,593.3 C506.4,593.4 508.9,593.1 511.1,592.9 C513.3,592.7 515.2,592.1 517.2,592.2 C519.2,592.3 521.4,593.5 523.4,593.7 C525.4,593.9 527.3,593.4 529.5,593.3 C531.7,593.2 535.1,593.1 536.6,592.9 C538.1,592.7 538.1,590.6 538.7,592.2 C539.3,593.8 539.7,598.0 540.1,602.4 C540.5,606.8 541.0,612.5 541.3,618.8 C541.6,625.1 541.5,631.7 541.7,640.4 C542.0,649.1 542.4,660.8 542.8,671.0 C543.2,681.2 543.7,691.1 544.2,701.6 C544.7,712.1 545.3,727.3 545.8,734.3 C546.3,741.3 546.9,741.7 547.4,743.5 C547.9,745.3 548.4,746.4 548.9,744.9 C549.4,743.4 549.8,741.5 550.3,734.3 C550.8,727.1 551.4,713.9 551.9,701.6 C552.4,689.4 552.6,674.4 553.0,660.8 C553.4,647.2 553.7,629.7 554.0,620.0 C554.3,610.3 554.3,607.1 554.6,602.4 C554.9,597.7 555.5,592.8 556.0,591.8 C556.5,590.8 557.2,592.8 557.7,596.3 C558.2,599.8 558.4,603.7 558.7,612.7 C559.0,621.8 559.3,637.5 559.7,650.6 C560.1,663.7 560.6,677.8 561.1,691.4 C561.6,705.0 562.3,721.7 562.8,732.2 C563.3,742.8 563.7,750.2 564.2,754.7 C564.7,759.2 565.3,758.9 565.8,759.2 C566.3,759.5 566.7,759.5 567.2,756.7 C567.7,753.9 568.2,751.6 568.7,742.4 C569.2,733.2 569.5,715.2 569.9,701.6 C570.3,688.0 570.9,671.3 571.3,660.8 C571.7,650.3 571.9,642.2 572.3,638.4 C572.6,634.6 573.0,637.3 573.4,638.0 C573.8,638.7 574.3,641.3 574.8,642.4 C575.3,643.5 576.0,641.4 576.4,644.5 C576.8,647.6 577.0,653.0 577.4,660.8 C577.8,668.6 578.4,681.2 578.9,691.4 C579.4,701.6 579.9,711.8 580.5,722.0 C581.1,732.2 581.9,745.5 582.6,752.7 C583.3,759.9 583.9,763.4 584.6,765.3 C585.3,767.2 586.0,767.7 586.6,763.9 C587.2,760.1 587.8,752.8 588.3,742.4 C588.8,732.0 589.2,715.2 589.7,701.6 C590.2,688.0 590.7,671.0 591.1,660.8 C591.5,650.6 591.8,644.1 592.3,640.4 C592.8,636.7 593.0,639.1 593.8,638.8 C594.5,638.5 595.6,638.9 596.8,638.8 C598.0,638.7 599.7,638.1 600.9,638.4 C602.1,638.7 603.0,639.9 604.0,640.4 C605.0,640.9 605.8,641.1 607.0,641.4 C608.2,641.7 609.7,642.5 611.1,642.4 C612.5,642.3 613.8,641.3 615.2,641.0 C616.6,640.7 617.6,640.5 619.3,640.4 C621.0,640.3 624.0,640.3 625.4,640.4 C626.8,640.5 626.5,641.2 627.4,641.0 C628.2,640.8 629.1,639.8 630.5,639.4 C631.9,639.0 634.1,638.6 635.6,638.4 C637.1,638.2 638.7,638.2 639.7,638.4 C640.7,638.6 640.7,639.6 641.7,639.4 C642.7,639.1 644.9,637.3 645.8,636.9 C646.6,636.5 646.6,636.7 646.8,636.7" fill="none" stroke="#5B9BD5" stroke-width="2.0" stroke-linejoin="round"/>
<polyline points="87.1,788.6 178.9,788.6 179.8,770.2 210.7,501.6 211.0,507.7 211.9,513.5 213.9,517.5 215.2,520.2 246.4,788.0 250.5,787.3 282.1,501.6 282.5,507.2 283.4,512.2 285.4,516.2 287.2,518.9 317.9,788.0 321.9,787.0 353.5,501.4 354.1,508.1 355.4,513.9 358.3,518.0 389.1,788.8 395.0,788.6 532.6,788.4 538.8,498.2 539.7,512.4 540.4,518.5 543.3,523.4 550.3,789.1 552.5,787.1 554.7,786.3 555.8,776.8 560.5,499.5 561.2,511.5 562.7,522.1 565.4,526.1 572.1,789.1 574.8,787.7 577.5,786.8 578.3,776.8 583.5,500.4 584.2,512.4 585.0,520.3 588.4,527.4 595.5,789.2 608.0,788.7" fill="none" stroke="#ED7D31" stroke-width="2.0" stroke-linejoin="round"/>
<text x="71.50" y="794.60" font-size="19.3" text-anchor="end" fill="#000" >0</text>
<text x="71.50" y="756.48" font-size="19.3" text-anchor="end" fill="#000" >500</text>
<text x="71.50" y="718.35" font-size="19.3" text-anchor="end" fill="#000" >1000</text>
<text x="71.50" y="680.23" font-size="19.3" text-anchor="end" fill="#000" >1500</text>
<text x="71.50" y="642.10" font-size="19.3" text-anchor="end" fill="#000" >2000</text>
<text x="71.50" y="603.98" font-size="19.3" text-anchor="end" fill="#000" >2500</text>
<text x="71.50" y="565.85" font-size="19.3" text-anchor="end" fill="#000" >3000</text>
<text x="71.50" y="527.73" font-size="19.3" text-anchor="end" fill="#000" >3500</text>
<text x="71.50" y="489.60" font-size="19.3" text-anchor="end" fill="#000" >4000</text>
<text x="668.50" y="485.80" font-size="19.3" text-anchor="start" fill="#ED7D31" >10</text>
<text x="668.50" y="516.70" font-size="19.3" text-anchor="start" fill="#ED7D31" >0</text>
<text x="668.50" y="547.60" font-size="19.3" text-anchor="start" fill="#ED7D31" >-10</text>
<text x="668.50" y="578.50" font-size="19.3" text-anchor="start" fill="#ED7D31" >-20</text>
<text x="668.50" y="609.40" font-size="19.3" text-anchor="start" fill="#ED7D31" >-30</text>
<text x="668.50" y="640.30" font-size="19.3" text-anchor="start" fill="#ED7D31" >-40</text>
<text x="668.50" y="671.20" font-size="19.3" text-anchor="start" fill="#ED7D31" >-50</text>
<text x="668.50" y="702.10" font-size="19.3" text-anchor="start" fill="#ED7D31" >-60</text>
<text x="668.50" y="733.00" font-size="19.3" text-anchor="start" fill="#ED7D31" >-70</text>
<text x="668.50" y="763.90" font-size="19.3" text-anchor="start" fill="#ED7D31" >-80</text>
<text x="668.50" y="794.80" font-size="19.3" text-anchor="start" fill="#ED7D31" >-90</text>
<text x="87.20" y="817.00" font-size="19.3" text-anchor="middle" fill="#000" >0</text>
<text x="150.06" y="817.00" font-size="19.3" text-anchor="middle" fill="#000" >10</text>
<text x="212.91" y="817.00" font-size="19.3" text-anchor="middle" fill="#000" >20</text>
<text x="275.77" y="817.00" font-size="19.3" text-anchor="middle" fill="#000" >30</text>
<text x="338.62" y="817.00" font-size="19.3" text-anchor="middle" fill="#000" >40</text>
<text x="401.48" y="817.00" font-size="19.3" text-anchor="middle" fill="#000" >50</text>
<text x="464.33" y="817.00" font-size="19.3" text-anchor="middle" fill="#000" >60</text>
<text x="527.19" y="817.00" font-size="19.3" text-anchor="middle" fill="#000" >70</text>
<text x="590.04" y="817.00" font-size="19.3" text-anchor="middle" fill="#000" >80</text>
<text x="652.90" y="817.00" font-size="19.3" text-anchor="middle" fill="#000" >90</text>
<text x="370.00" y="842.90" font-size="18.8" text-anchor="middle" fill="#000" >Time (sec)</text>
<text x="24.60" y="634.30" font-size="18.8" text-anchor="middle" fill="#000" transform="rotate(-90 24.6 634.3)">Compressive Stress (kPa)</text>
<text x="716.30" y="634.40" font-size="18.8" text-anchor="middle" fill="#000" transform="rotate(-90 716.3 634.4)">FCR (%)</text>
<rect x="98.7" y="445.5" width="31" height="2.1" fill="#ED7D31"/>
<text x="132.30" y="452.60" font-size="18.8" text-anchor="start" fill="#000" >Compressive Stress (3804 kPa)</text>
<rect x="410" y="445.5" width="31" height="2.1" fill="#5B9BD5"/>
<text x="444.20" y="452.60" font-size="18.8" text-anchor="start" fill="#000" >FCR (Condition Figure 3e)</text>
<text x="363.60" y="886.30" font-size="16.2" text-anchor="middle" fill="#000" >(<tspan font-weight="bold">d</tspan>)</text>
</svg>
</body></html>
